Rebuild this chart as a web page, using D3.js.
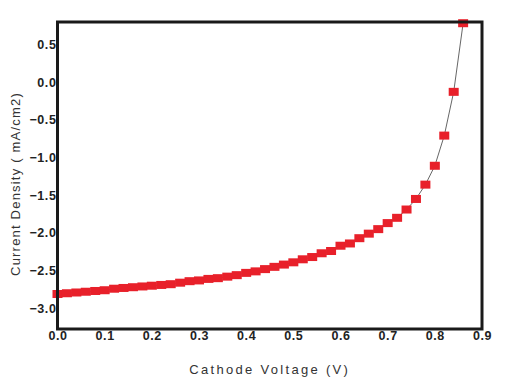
<!DOCTYPE html>
<html>
<head>
<meta charset="utf-8">
<script src="https://cdn.jsdelivr.net/npm/d3@7"></script>
<style>
  body { margin: 0; background: #fff; }
  svg { display: block; }
</style>
</head>
<body>
<div id="chart"></div>
<script>
// Data
var voltage = [0.00, 0.02, 0.04, 0.06, 0.08, 0.10, 0.12, 0.14, 0.16, 0.18,
  0.20, 0.22, 0.24, 0.26, 0.28, 0.30, 0.32, 0.34, 0.36, 0.38,
  0.40, 0.42, 0.44, 0.46, 0.48, 0.50, 0.52, 0.54, 0.56, 0.58,
  0.60, 0.62, 0.64, 0.66, 0.68, 0.70, 0.72, 0.74, 0.76, 0.78,
  0.80, 0.82, 0.84, 0.86];
var density = [-2.81, -2.80, -2.79, -2.78, -2.77, -2.76, -2.74, -2.73, -2.72, -2.71,
  -2.70, -2.69, -2.68, -2.66, -2.64, -2.63, -2.61, -2.60, -2.58, -2.56,
  -2.53, -2.51, -2.48, -2.45, -2.42, -2.39, -2.35, -2.32, -2.27, -2.24,
  -2.17, -2.14, -2.07, -2.01, -1.95, -1.87, -1.80, -1.69, -1.55, -1.36,
  -1.11, -0.71, -0.13, 0.78];
var xTicks = [0, 0.1, 0.2, 0.3, 0.4, 0.5, 0.6, 0.7, 0.8, 0.9];
var yTicks = [0.5, 0, -0.5, -1.0, -1.5, -2.0, -2.5, -3.0];

var totalWidth = 511, totalHeight = 378;
var margin = { top: 22, right: 29, bottom: 49, left: 57.5 };
var width = totalWidth - margin.left - margin.right;
var height = totalHeight - margin.top - margin.bottom;

var data = voltage.map(function(v, i) {
  return { v: v, j: density[i] };
});

var x = d3.scaleLinear().domain([0, 0.9]).range([0, width]);
var y = d3.scaleLinear().domain([-3.274, 0.796]).range([height, 0]);

var svg = d3.select('#chart')
  .append('svg')
  .attr('width', totalWidth)
  .attr('height', totalHeight);

var main = svg.append('g')
  .attr('transform', 'translate(' + margin.left + ',' + margin.top + ')');

// X axis labels (no tick marks)
var xAxis = main.append('g')
  .attr('transform', 'translate(0,' + height + ')')
  .call(d3.axisBottom(x).tickValues(xTicks).tickSize(0).tickPadding(2)
    .tickFormat(d3.format('.1f')));
xAxis.select('.domain').remove();
xAxis.selectAll('text')
  .attr('font-family', 'Liberation Sans, Arial, sans-serif')
  .attr('font-size', 12.5)
  .attr('font-weight', 'bold')
  .attr('letter-spacing', '0.6px')
  .attr('fill', '#222');

// Y axis labels
var yAxis = main.append('g')
  .call(d3.axisLeft(y).tickValues(yTicks).tickSize(0).tickPadding(1)
    .tickFormat(d3.format('.1f')));
yAxis.select('.domain').remove();
yAxis.selectAll('text')
  .attr('font-family', 'Liberation Sans, Arial, sans-serif')
  .attr('font-size', 12.5)
  .attr('font-weight', 'bold')
  .attr('letter-spacing', '0.6px')
  .attr('fill', '#222');

// Connecting line
var line = d3.line()
  .x(function(d) { return x(d.v); })
  .y(function(d) { return y(d.j); });

main.append('path')
  .datum(data)
  .attr('d', line)
  .attr('fill', 'none')
  .attr('stroke', '#555')
  .attr('stroke-width', 0.9);

// Square markers
main.selectAll('rect.pt')
  .data(data)
  .enter().append('rect')
  .attr('class', 'pt')
  .attr('x', function(d) { return x(d.v) - 5; })
  .attr('y', function(d) { return y(d.j) - 4; })
  .attr('width', 10)
  .attr('height', 8)
  .attr('fill', '#e8202a');

// Frame
main.append('rect')
  .attr('width', width)
  .attr('height', height)
  .attr('fill', 'none')
  .attr('stroke', '#1a1a1a')
  .attr('stroke-width', 3);

// Axis titles
svg.append('text')
  .attr('x', margin.left + width / 2)
  .attr('y', 374)
  .attr('text-anchor', 'middle')
  .attr('font-family', 'Liberation Sans, Arial, sans-serif')
  .attr('font-size', 13)
  .attr('letter-spacing', '2.3px')
  .attr('fill', '#333')
  .text('Cathode Voltage (V)');

svg.append('text')
  .attr('transform', 'translate(20,184) rotate(-90)')
  .attr('text-anchor', 'middle')
  .attr('font-family', 'Liberation Sans, Arial, sans-serif')
  .attr('font-size', 13)
  .attr('letter-spacing', '1.2px')
  .attr('fill', '#333')
  .text('Current Density ( mA/cm2)');
</script>
</body>
</html>
